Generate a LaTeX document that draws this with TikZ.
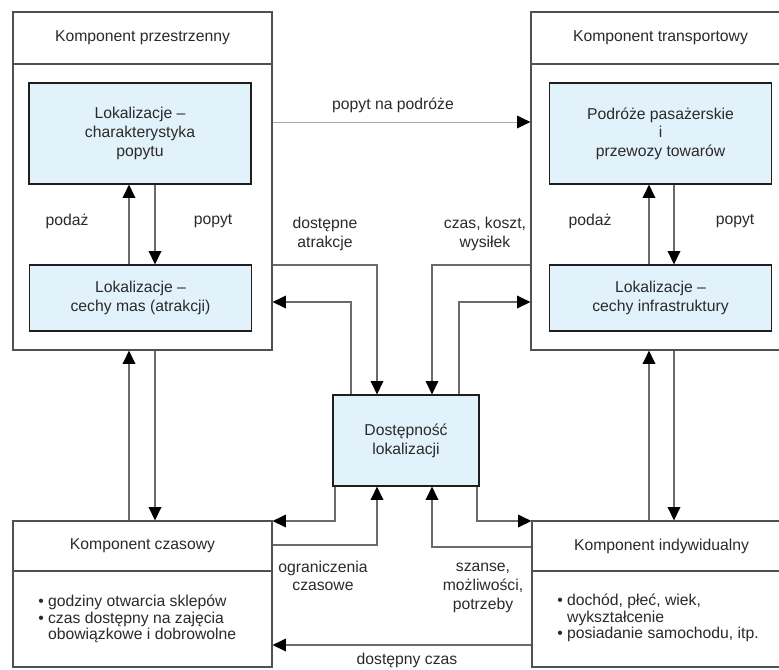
\documentclass[tikz,border=0pt]{standalone}
\usepackage{fontspec}
\setmainfont{Liberation Sans}
\usepackage{xcolor}
\definecolor{paleblue}{HTML}{E1F2FA}
\definecolor{boxgray}{HTML}{505050}
\definecolor{linegray}{HTML}{6A6A6A}
\definecolor{lightline}{HTML}{A8A8A8}
\definecolor{darkline}{HTML}{1E1E1E}
\definecolor{inkgray}{HTML}{2A2A2A}
\usepackage{tikz}
\usetikzlibrary{arrows.meta}

\begin{document}
\begin{tikzpicture}[x=0.75pt,y=-0.75pt,align=center,
	font=\fontsize{11.8}{14}\selectfont, text=inkgray]

\useasboundingbox (0,0) rectangle (779,669);

\tikzstyle{outer}=[
	rectangle,
	draw=boxgray,
	fill=white,
	line width=0.9pt,
	inner sep=0pt,
	minimum width=194.25pt
]
\tikzstyle{head}=[outer]
\tikzstyle{loc}=[
	rectangle,
	draw=darkline,
	fill=paleblue,
	line width=0.9pt,
	inner sep=0pt,
	minimum width=166.5pt
]
\tikzstyle{lbl}=[inner sep=0pt]
\tikzstyle{bul}=[
	inner sep=0pt,
	anchor=west,
	align=left,
	font=\fontsize{11.8}{12.2}\selectfont
]
\tikzstyle{arr}=[
	-{Triangle[length=10pt,width=9.5pt,color=black]},
	draw=linegray,
	line width=1pt
]
\tikzstyle{arrthin}=[arr, draw=lightline, line width=0.7pt]

% four components
\node[outer, minimum height=253.5pt] (prz) at (142.5, 181) {};
\node[head, minimum height=39pt] (przT) at (142.5, 38) {Komponent przestrzenny};
\node[outer, minimum height=253.5pt] (tra) at (660.5, 181) {};
\node[head, minimum height=39pt] (traT) at (660.5, 38) {Komponent transportowy};
\node[outer, minimum height=109.5pt] (cza) at (142.5, 594) {};
\node[head, minimum height=37.5pt] (czaT) at (142.5, 546) {Komponent czasowy};
\node[outer, minimum height=109.5pt] (ind) at (661.5, 594) {};
\node[head, minimum height=37.5pt] (indT) at (661.5, 546) {Komponent indywidualny};

\node[bul] (czaL) at (38, 619)
	{\textbullet\ godziny otwarcia sklepów\\
	 \textbullet\ czas dostępny na zajęcia\\
	 \hphantom{\textbullet\ }obowiązkowe i dobrowolne};
\node[bul] (indL) at (557, 618)
	{\textbullet\ dochód, płeć, wiek,\\
	 \hphantom{\textbullet\ }wykształcenie\\
	 \textbullet\ posiadanie samochodu, itp.};

% inner boxes
\node[loc, minimum height=75.75pt] (lok1) at (140, 133.5)
	{Lokalizacje --\\charakterystyka\\popytu};
\node[loc, minimum height=49.5pt] (lok2) at (140.5, 298)
	{Lokalizacje --\\cechy mas (atrakcji)};
\node[loc, minimum height=75.75pt] (pod) at (660.5, 133.5)
	{Podróże pasażerskie\\i\\przewozy towarów};
\node[loc, minimum height=49.5pt] (inf) at (660.5, 298)
	{Lokalizacje --\\cechy infrastruktury};

\node[loc, minimum width=109.5pt, minimum height=68.25pt] (dost) at (406, 440.5)
	{Dostępność\\lokalizacji};

% connector positions
\coordinate (a1) at (129, 0);
\coordinate (a2) at (155, 0);
\coordinate (b1) at (649, 0);
\coordinate (b2) at (674, 0);
\coordinate (pp) at (400, 122);
\coordinate (t1) at (351, 302);
\coordinate (t2) at (377, 265);
\coordinate (t3) at (432, 265);
\coordinate (t4) at (459, 302);
\coordinate (u1) at (335, 521);
\coordinate (u2) at (377, 545);
\coordinate (u3) at (432, 547);
\coordinate (u4) at (477, 521);
\coordinate (u5) at (400, 645);

\draw[arrthin] (prz.east |- pp) -- (tra.west |- pp);

\draw[arr] (lok2.north -| a1) -- (lok1.south -| a1);
\draw[arr] (lok1.south -| a2) -- (lok2.north -| a2);
\draw[arr] (inf.north -| b1) -- (pod.south -| b1);
\draw[arr] (pod.south -| b2) -- (inf.north -| b2);

\draw[arr] (cza.north -| a1) -- (prz.south -| a1);
\draw[arr] (prz.south -| a2) -- (cza.north -| a2);
\draw[arr] (ind.north -| b1) -- (tra.south -| b1);
\draw[arr] (tra.south -| b2) -- (ind.north -| b2);

\draw[arr] (dost.north -| t1) |- (prz.east |- t1);
\draw[arr] (prz.east |- t2) -| (dost.north -| t2);
\draw[arr] (tra.west |- t3) -| (dost.north -| t3);
\draw[arr] (dost.north -| t4) |- (tra.west |- t4);

\draw[arr] (dost.south -| u1) |- (cza.east |- u1);
\draw[arr] (cza.east |- u2) -| (dost.south -| u2);
\draw[arr] (ind.west |- u3) -| (dost.south -| u3);
\draw[arr] (dost.south -| u4) |- (ind.west |- u4);
\draw[arr] (ind.west |- u5) -- (cza.east |- u5);

% labels
\node[lbl] (lpp) at (393, 105) {popyt na podróże};
\node[lbl] (ls1) at (67, 221) {podaż};
\node[lbl] (ld1) at (213, 221) {popyt};
\node[lbl] (ls2) at (590, 221) {podaż};
\node[lbl] (ld2) at (735, 221) {popyt};
\node[lbl] (latr) at (325, 234) {dostępne\\atrakcje};
\node[lbl] (lczk) at (485, 234) {czas, koszt,\\wysiłek};
\node[lbl] (logr) at (323, 576) {ograniczenia\\czasowe};
\node[lbl] (lsza) at (483, 588) {szanse,\\możliwości,\\potrzeby};
\node[lbl] (ldc) at (407, 660) {dostępny czas};

\end{tikzpicture}
\end{document}
